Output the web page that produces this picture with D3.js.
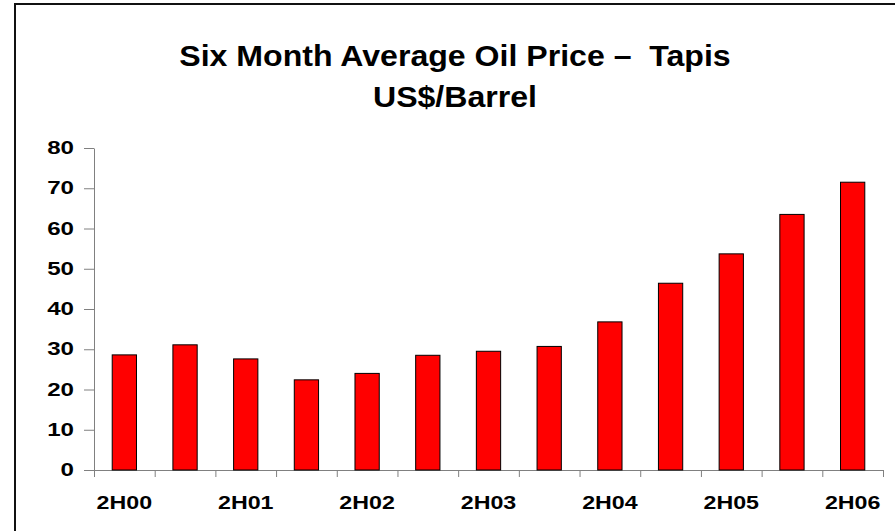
<!DOCTYPE html>
<html>
<head>
<meta charset="utf-8">
<script src="https://cdn.jsdelivr.net/npm/d3@7"></script>
<style>
  body { margin: 0; background: #fff; }
  text { font-family: "Liberation Sans", Arial, sans-serif; font-weight: bold; fill: #000; }
</style>
</head>
<body>
<svg id="chart" width="895" height="531"></svg>
<script>
const periods = ["2H00", "1H01", "2H01", "1H02", "2H02", "1H03", "2H03", "1H04", "2H04", "1H05", "2H05", "1H06", "2H06"];
const prices = [28.6, 31.1, 27.6, 22.4, 24.0, 28.5, 29.5, 30.7, 36.8, 46.4, 53.7, 63.5, 71.5];
const yTicks = [0, 10, 20, 30, 40, 50, 60, 70, 80];
const titleLines = ["Six Month Average Oil Price \u2013\u00a0 Tapis", "US$/Barrel"];

const data = periods.map((p, i) => ({ period: p, price: prices[i] }));

const svg = d3.select("#chart");
const margin = { top: 148, right: 12, bottom: 61, left: 94 };
const width = 895 - margin.left - margin.right;
const height = 531 - margin.top - margin.bottom;
const yStretch = 1.38;

// outer frame (runs off the right and bottom edges)
svg.append("rect")
    .attr("x", 15).attr("y", 4)
    .attr("width", 900).attr("height", 540)
    .attr("fill", "none")
    .attr("stroke", "#111")
    .attr("stroke-width", 2);

// title
svg.append("g").selectAll("text")
    .data(titleLines)
    .join("text")
    .attr("transform", (d, i) => `translate(455,${66 + i * 41}) scale(1.07,1)`)
    .attr("text-anchor", "middle")
    .style("font-size", "30px")
    .text(d => d);

const chart = svg.append("g").attr("transform", `translate(${margin.left},${margin.top})`);

const x = d3.scaleBand().domain(periods).range([0, width]).paddingInner(0.6).paddingOuter(0.3);
const y = d3.scaleLinear().domain([0, 80]).range([height, 0]);
const xEdges = d3.scaleLinear().domain([0, periods.length]).range([0, width]);

// y axis
const yAxis = chart.append("g")
    .call(d3.axisLeft(y).tickValues(yTicks).tickSize(10).tickPadding(10).tickSizeOuter(0));
yAxis.selectAll("path, line").attr("stroke", "#808080");
yAxis.selectAll("text")
    .style("font-size", "17.5px").attr("font-family", null)
    .attr("x", -20 / yStretch)
    .attr("transform", `scale(${yStretch},1)`);

// x axis: tick marks between categories
const xTickAxis = chart.append("g")
    .attr("transform", `translate(0,${height})`)
    .call(d3.axisBottom(xEdges).tickValues(d3.range(periods.length + 1)).tickSize(7).tickSizeOuter(0).tickFormat(""));
xTickAxis.selectAll("path, line").attr("stroke", "#808080");

// x axis labels, every second period
const xLabelAxis = chart.append("g")
    .attr("transform", `translate(0,${height})`)
    .call(d3.axisBottom(x).tickSize(0).tickPadding(26).tickFormat(d => d.startsWith("2H") ? d : ""));
xLabelAxis.select(".domain").remove();
xLabelAxis.selectAll("text")
    .style("font-size", "18px").attr("font-family", null)
    .attr("transform", "scale(1.29,1)");

// bars
chart.selectAll(".bar")
    .data(data)
    .join("rect")
    .attr("class", "bar")
    .attr("x", d => x(d.period))
    .attr("y", d => y(d.price))
    .attr("width", x.bandwidth())
    .attr("height", d => y(0) - y(d.price))
    .attr("fill", "#ff0000")
    .attr("stroke", "#000")
    .attr("stroke-width", 1);
</script>
</body>
</html>
